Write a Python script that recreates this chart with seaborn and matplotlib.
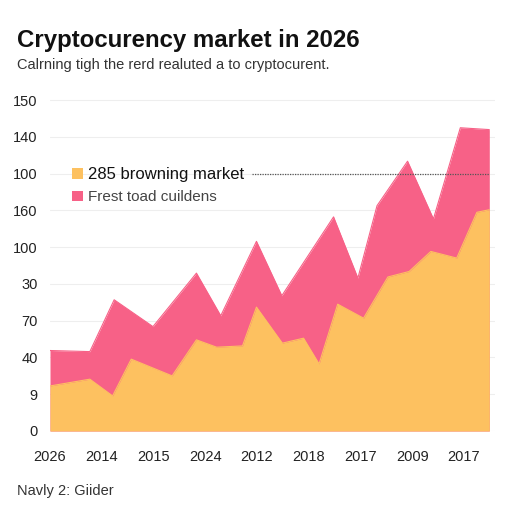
import numpy as np
import pandas as pd
import matplotlib
matplotlib.use("Agg")
import matplotlib.pyplot as plt
import seaborn as sns

# ---- data ----
title = "Cryptocurency market in 2026"
subtitle = "Calrning tigh the rerd realuted a to cryptocurent."
footer = "Navly 2: Giider"
series_names = ["285 browning market", "Frest toad cuildens"]

x_tick_labels = ["2026", "2014", "2015", "2024", "2012", "2018", "2017", "2009", "2017"]
y_tick_values = [0, 20, 40, 60, 80, 100, 120, 140, 160, 180]
y_tick_labels = ["0", "9", "40", "70", "30", "100", "160", "100", "140", "150"]

# upper (pink) boundary: total
top_x = [0.0, 0.77, 1.24, 1.99, 2.83, 3.30, 3.99, 4.48, 5.48, 5.95, 6.32, 6.91, 7.41, 7.93, 8.49]
top_y = [43.8, 43.2, 71.4, 56.8, 85.9, 62.7, 103.2, 73.6, 116.5, 83.2, 122.6, 146.8, 115.4, 165.0, 164.0]

# lower (orange) series
low_x = [0.0, 0.77, 1.21, 1.57, 2.36, 2.83, 3.22, 3.72, 3.99, 4.49, 4.90, 5.20, 5.56, 6.06,
         6.53, 6.94, 7.36, 7.86, 8.25, 8.49]
low_y = [24.5, 28.2, 19.1, 39.1, 30.0, 49.6, 45.6, 46.3, 67.4, 47.8, 50.5, 36.5, 69.0, 61.4,
         83.8, 86.8, 97.7, 94.1, 119.0, 120.4]

ref_level = 140
ref_start = 3.9

orange = "#FDC160"
pink = "#F76187"

sns.set_theme(style="white")
plt.rcParams["font.family"] = ["Liberation Sans", "DejaVu Sans"]

fig = plt.figure(figsize=(5.12, 5.12), dpi=100)
ax = fig.add_axes([50 / 512, 81 / 512, 445 / 512, 340 / 512])

top_df = pd.DataFrame({"x": top_x, "y": top_y})
low_df = pd.DataFrame({"x": low_x, "y": low_y})

sns.lineplot(data=top_df, x="x", y="y", ax=ax, color=pink, linewidth=0.8, zorder=2)
sns.lineplot(data=low_df, x="x", y="y", ax=ax, color=orange, linewidth=0.8, zorder=3)
h2 = ax.fill_between(top_df["x"], 0, top_df["y"], color=pink, linewidth=0, zorder=2)
h1 = ax.fill_between(low_df["x"], 0, low_df["y"], color=orange, linewidth=0, zorder=3)

ax.hlines(ref_level, ref_start, top_x[-1], colors="#555555", linestyles=(0, (1, 1)),
          linewidth=0.9, zorder=4)

ax.set_xlim(0, 8.6)
ax.set_ylim(0, 185)
ax.set_yticks(y_tick_values)
ax.set_yticklabels(y_tick_labels)
ax.set_xticks(range(len(x_tick_labels)))
ax.set_xticklabels(x_tick_labels)
ax.tick_params(axis="both", length=0, labelsize=10.5, labelcolor="#222222")
ax.tick_params(axis="y", pad=9)
ax.tick_params(axis="x", pad=14)
ax.set_xlabel("")
ax.set_ylabel("")
ax.grid(axis="y", color="#eeeeee", linewidth=0.8, zorder=0)
ax.set_axisbelow(True)
for s in ax.spines.values():
    s.set_visible(False)

leg = ax.legend([h1, h2], series_names, loc="upper left", bbox_to_anchor=(0.036, 0.795),
                frameon=False, handlelength=0.7, handleheight=0.7, handletextpad=0.35,
                labelspacing=0.55, fontsize=11, borderaxespad=0)
texts = leg.get_texts()
texts[0].set_color("#111111")
texts[0].set_fontsize(12)
texts[1].set_color("#444444")

fig.text(17 / 512, 1 - 40 / 512, title, fontsize=17.3, fontweight="bold",
         color="#111111", va="center", ha="left")
fig.text(17 / 512, 1 - 65 / 512, subtitle, fontsize=10.5, color="#333333",
         va="center", ha="left")
fig.text(17 / 512, 1 - 491 / 512, footer, fontsize=10.5, color="#333333",
         va="center", ha="left")

fig.savefig("out.png", dpi=100, facecolor="white")
